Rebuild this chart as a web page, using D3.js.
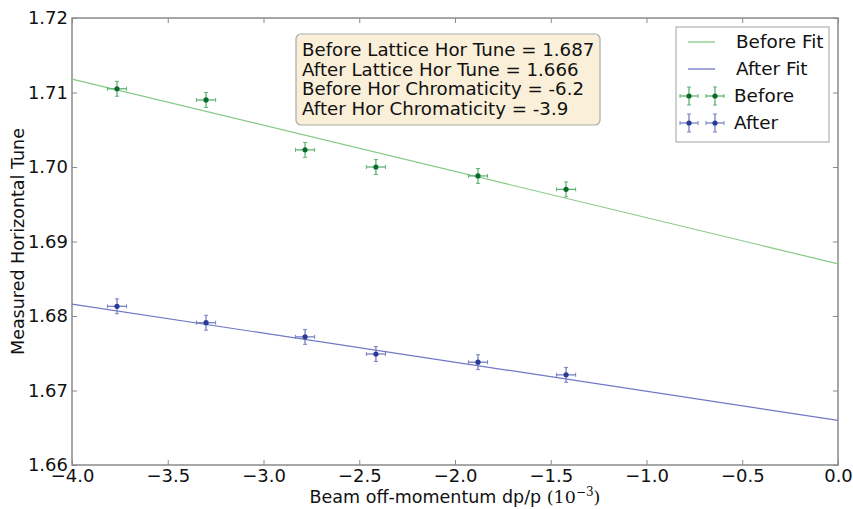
<!DOCTYPE html>
<html>
<head>
<meta charset="utf-8">
<script src="https://cdn.jsdelivr.net/npm/d3@7"></script>
<style>
  html, body { margin: 0; padding: 0; background: #fff; }
  svg { display: block; font-family: "DejaVu Sans", sans-serif; }
</style>
</head>
<body>
<svg id="chart" width="853" height="509"></svg>
<script>
// Beam off-momentum dp/p (units of 1e-3) for each measurement
const dpp = [-3.765, -3.30, -2.783, -2.413, -1.88, -1.42];
const dppErr = [0.05, 0.05, 0.05, 0.05, 0.05, 0.05];

// Measured horizontal tune before and after the correction
const tuneBefore = [1.7105, 1.7090, 1.7023, 1.7000, 1.6988, 1.6970];
const tuneBeforeErr = [0.001, 0.001, 0.001, 0.001, 0.001, 0.001];
const tuneAfter = [1.6813, 1.6791, 1.6772, 1.6749, 1.6738, 1.6721];
const tuneAfterErr = [0.001, 0.001, 0.001, 0.001, 0.001, 0.001];

// Linear fit results: lattice tune and chromaticity
const fitBefore = { tune: 1.687, chrom: -6.2 };
const fitAfter = { tune: 1.666, chrom: -3.9 };

const xTicks = [-4.0, -3.5, -3.0, -2.5, -2.0, -1.5, -1.0, -0.5, 0.0];
const yTicks = [1.66, 1.67, 1.68, 1.69, 1.70, 1.71, 1.72];

const infoLines = [
  "Before Lattice Hor Tune = " + fitBefore.tune.toFixed(3),
  "After Lattice Hor Tune = " + fitAfter.tune.toFixed(3),
  "Before Hor Chromaticity = " + fitBefore.chrom.toFixed(1),
  "After Hor Chromaticity = " + fitAfter.chrom.toFixed(1)
];

const svg = d3.select("#chart");
const L = 72, R = 838, T = 18, B = 465;

const x = d3.scaleLinear().domain([-4, 0]).range([L, R]);
const y = d3.scaleLinear().domain([1.66, 1.72]).range([B, T]);

const frameColor = "#8a8a8a";
const fmtMinus = s => s.replace("-", "\u2212");

// ticks pointing inward on all four sides
const axB = d3.axisBottom(x).tickValues(xTicks).tickSizeInner(-5).tickSizeOuter(0)
  .tickPadding(4).tickFormat(d => fmtMinus(d3.format(".1f")(d)));
const axT = d3.axisTop(x).tickValues(xTicks).tickSizeInner(-5).tickSizeOuter(0).tickFormat("");
const axLf = d3.axisLeft(y).tickValues(yTicks).tickSizeInner(-5).tickSizeOuter(0)
  .tickPadding(4).tickFormat(d3.format(".2f"));
const axRt = d3.axisRight(y).tickValues(yTicks).tickSizeInner(-5).tickSizeOuter(0).tickFormat("");

function styleAxis(g) {
  g.select(".domain").remove();
  g.selectAll(".tick line").attr("stroke", frameColor).attr("stroke-width", 1);
  g.selectAll(".tick text").attr("fill", "#111").style("font-family", "DejaVu Sans")
    .style("font-size", "18px");
}

svg.append("g").attr("transform", `translate(0,${B})`).call(axB).call(styleAxis);
svg.append("g").attr("transform", `translate(0,${T})`).call(axT).call(styleAxis);
svg.append("g").attr("transform", `translate(${L},0)`).call(axLf).call(styleAxis);
svg.append("g").attr("transform", `translate(${R},0)`).call(axRt).call(styleAxis);

// plot frame
svg.append("rect").attr("x", L).attr("y", T).attr("width", R - L).attr("height", B - T)
  .attr("fill", "none").attr("stroke", frameColor).attr("stroke-width", 1.5);

// fit lines
const fitLine = (f) => [x.domain()[0], x.domain()[1]].map(v => [x(v), y(f.tune + f.chrom * v * 1e-3)]);
const line = d3.line();
const series = [
  { fit: fitBefore, vals: tuneBefore, err: tuneBeforeErr, lineCol: "#86c986", barCol: "#5fb472", dotCol: "#0b6b2c" },
  { fit: fitAfter, vals: tuneAfter, err: tuneAfterErr, lineCol: "#6f78c4", barCol: "#7880c2", dotCol: "#2a3a98" }
];

series.forEach(s => {
  svg.append("path").attr("d", line(fitLine(s.fit)))
    .attr("fill", "none").attr("stroke", s.lineCol).attr("stroke-width", 1.2);
});

// error bars with caps, then markers
function drawErr(g, cx, cy, ex, ey, col, cap) {
  g.append("line").attr("x1", cx - ex).attr("x2", cx + ex).attr("y1", cy).attr("y2", cy)
    .attr("stroke", col).attr("stroke-width", 1.3);
  g.append("line").attr("x1", cx).attr("x2", cx).attr("y1", cy - ey).attr("y2", cy + ey)
    .attr("stroke", col).attr("stroke-width", 1.3);
  [-1, 1].forEach(sg => {
    g.append("line").attr("x1", cx + sg * ex).attr("x2", cx + sg * ex).attr("y1", cy - cap).attr("y2", cy + cap)
      .attr("stroke", col).attr("stroke-width", 1);
    g.append("line").attr("x1", cx - cap).attr("x2", cx + cap).attr("y1", cy + sg * ey).attr("y2", cy + sg * ey)
      .attr("stroke", col).attr("stroke-width", 1);
  });
}

series.forEach(s => {
  const g = svg.append("g");
  s.vals.forEach((v, i) => {
    const cx = x(dpp[i]), cy = y(v);
    const ex = x(dpp[i] + dppErr[i]) - cx;
    const ey = cy - y(v + s.err[i]);
    drawErr(g, cx, cy, ex, ey, s.barCol, 2);
    g.append("circle").attr("cx", cx).attr("cy", cy).attr("r", 2.6).attr("fill", s.dotCol);
  });
});

// info box
const info = svg.append("g");
const infoText = info.append("text").attr("x", 302).attr("y", 56)
  .style("font-size", "18.2px").attr("fill", "#111");
infoLines.forEach((t, i) => {
  infoText.append("tspan").attr("x", 302).attr("y", 56 + i * 19.7).text(t);
});
info.insert("rect", "text").attr("x", 296).attr("y", 34).attr("width", 304).attr("height", 91)
  .attr("rx", 5).attr("fill", "#faefd9").attr("stroke", "#a9a9a9").attr("stroke-width", 1.2);

// legend
const lg = svg.append("g");
lg.append("rect").attr("x", 676).attr("y", 27).attr("width", 153).attr("height", 115)
  .attr("fill", "#fff").attr("stroke", "#a0a0a0").attr("stroke-width", 1);
const legendItems = [
  { label: "Before Fit", type: "line", s: series[0] },
  { label: "After Fit", type: "line", s: series[1] },
  { label: "Before", type: "err", s: series[0] },
  { label: "After", type: "err", s: series[1] }
];
legendItems.forEach((it, i) => {
  const ly = 42 + i * 27;
  if (it.type === "line") {
    lg.append("line").attr("x1", 688).attr("x2", 715).attr("y1", ly).attr("y2", ly)
      .attr("stroke", it.s.lineCol).attr("stroke-width", 1.3);
  } else {
    [689, 715].forEach(cx => {
      drawErr(lg, cx, ly, 9, 9, it.s.barCol, 2);
      lg.append("circle").attr("cx", cx).attr("cy", ly).attr("r", 2.6).attr("fill", it.s.dotCol);
    });
  }
  lg.append("text").attr("x", it.type === "line" ? 736 : 734).attr("y", ly + 6)
    .style("font-size", "18.4px").attr("fill", "#111").text(it.label);
});

// axis titles
svg.append("text").attr("transform", `translate(24,${(T + B) / 2}) rotate(-90)`)
  .attr("text-anchor", "middle").style("font-size", "17.5px").attr("fill", "#111")
  .text("Measured Horizontal Tune");

const xt = svg.append("text").attr("x", (L + R) / 2).attr("y", 503).attr("text-anchor", "middle")
  .style("font-size", "17.5px").attr("fill", "#111");
xt.append("tspan").text("Beam off-momentum dp/p ");
xt.append("tspan").style("font-family", "DejaVu Serif").text("(10");
xt.append("tspan").style("font-family", "DejaVu Serif").style("font-size", "12px").attr("dy", -7).text("\u22123");
xt.append("tspan").style("font-family", "DejaVu Serif").attr("dy", 7).text(")");
</script>
</body>
</html>
